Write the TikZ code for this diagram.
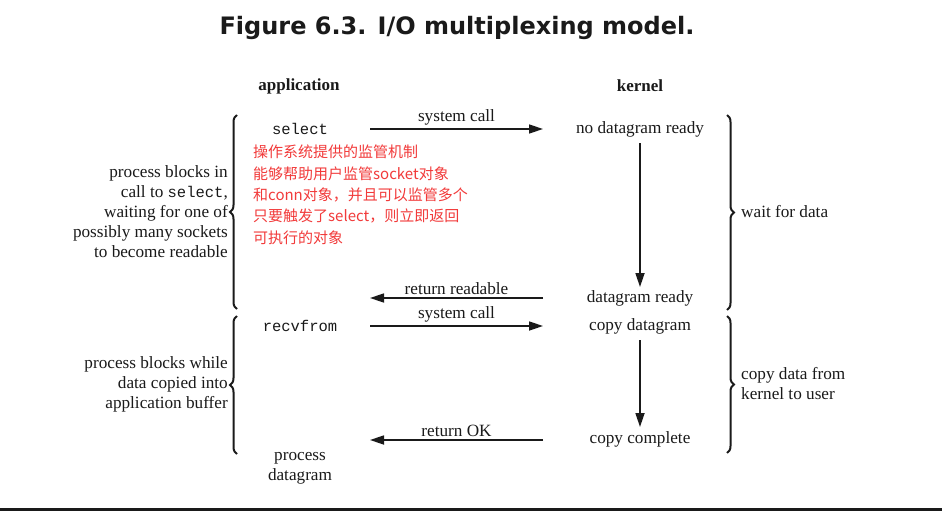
\documentclass[tikz,border=0pt]{standalone}
\usepackage{fontspec}
\setmainfont{Liberation Serif}
\setmonofont{Liberation Mono}
\newfontfamily\cjk{Noto Sans CJK SC}
\newfontfamily\titlefont{DejaVu Sans}
\usetikzlibrary{arrows.meta,decorations.pathreplacing}
\definecolor{redtxt}{HTML}{F23A3A}
\definecolor{ink}{HTML}{1A1A1A}
\tikzset{
  txt/.style={font=\fontsize{17.2}{20}\selectfont, text=ink, inner sep=0pt},
  head/.style={font=\fontsize{17}{20}\selectfont\bfseries, text=ink, inner sep=0pt},
  code/.style={font=\fontsize{15.5}{20}\selectfont\ttfamily, text=ink, inner sep=0pt},
  note/.style={font=\fontsize{15}{21.3}\selectfont\cjk, text=redtxt, inner sep=0pt, align=left},
  flow/.style={draw=ink, line width=1.7pt, -{Triangle[length=14pt,width=9pt]}},
  bracel/.style={draw=ink, line width=2pt, decorate, decoration={brace, amplitude=7pt, mirror}},
  bracer/.style={draw=ink, line width=2pt, decorate, decoration={brace, amplitude=7pt}},
}
\begin{document}
\begin{tikzpicture}[x=1pt,y=-1pt]
\useasboundingbox (0,0) rectangle (942,511);
\fill[white] (0,0) rectangle (942,511);
% title
\node[font=\titlefont\bfseries\fontsize{24}{28}\selectfont, text=ink, inner sep=0pt] (title) at (457,28) {Figure 6.3. I/O multiplexing model.};
% headers
\node[head] (app) at (299,86) {application};
\node[head] (ker) at (640,86) {kernel};
% application column
\node[code] (sel) at (300,129) {select};
\node[code] (recv) at (300,326) {recvfrom};
\node[txt, align=center] (proc) at (300,468) {process\\datagram};
% kernel column
\node[txt] (nodg) at (640,129.5) {no datagram ready};
\node[txt] (dgr) at (640,298.5) {datagram ready};
\node[txt] (cpd) at (640,326.5) {copy datagram};
\node[txt] (cpc) at (640,439.5) {copy complete};
% arrow end points
\coordinate (a1s) at (370,129); \coordinate (a1e) at (543,129);
\coordinate (a2s) at (543,298); \coordinate (a2e) at (370,298);
\coordinate (a3s) at (370,326); \coordinate (a3e) at (543,326);
\coordinate (a4s) at (543,440); \coordinate (a4e) at (370,440);
\draw[flow] (a1s) -- node[txt, above=2.5pt] (l1) {system call} (a1e);
\draw[flow] (a2s) -- node[txt, above=2.5pt] (l2) {return readable} (a2e);
\draw[flow] (a3s) -- node[txt, above=2.5pt] (l3) {system call} (a3e);
\draw[flow] (a4s) -- node[txt, above=2.5pt] (l4) {return OK} (a4e);
\coordinate (v1s) at (640,143); \coordinate (v1e) at (640,287);
\coordinate (v2s) at (640,340); \coordinate (v2e) at (640,427);
\draw[flow] (v1s) -- (v1e);
\draw[flow] (v2s) -- (v2e);
% braces left
\coordinate (bl1t) at (237,115); \coordinate (bl1b) at (237,309);
\coordinate (bl2t) at (237,316); \coordinate (bl2b) at (237,454);
\draw[bracel] (bl1t) -- (bl1b);
\draw[bracel] (bl2t) -- (bl2b);
% braces right
\coordinate (br1t) at (727,115); \coordinate (br1b) at (727,310);
\coordinate (br2t) at (727,316); \coordinate (br2b) at (727,453);
\draw[bracer] (br1t) -- (br1b);
\draw[bracer] (br2t) -- (br2b);
% side texts
\node[txt, align=right, anchor=east] (lt1) at (228,212) {process blocks in\\call to {\fontsize{15.5}{20}\selectfont\ttfamily select},\\waiting for one of\\possibly many sockets\\to become readable};
\node[txt, align=right, anchor=east] (lt2) at (228,384) {process blocks while\\data copied into\\application buffer};
\node[txt, align=left, anchor=west] (rt1) at (741,212) {wait for data};
\node[txt, align=left, anchor=west] (rt2) at (741,384) {copy data from\\kernel to user};
% red note
\node[note, anchor=north west] (nt) at (253,145) {操作系统提供的监管机制\\能够帮助用户监管socket对象\\和conn对象，并且可以监管多个\\只要触发了select，则立即返回\\可执行的对象};
% bottom rule
\coordinate (rl) at (0,509.5); \coordinate (rr) at (942,509.5);
\draw[line width=2.5pt, ink] (rl) -- (rr);
\end{tikzpicture}
\end{document}
